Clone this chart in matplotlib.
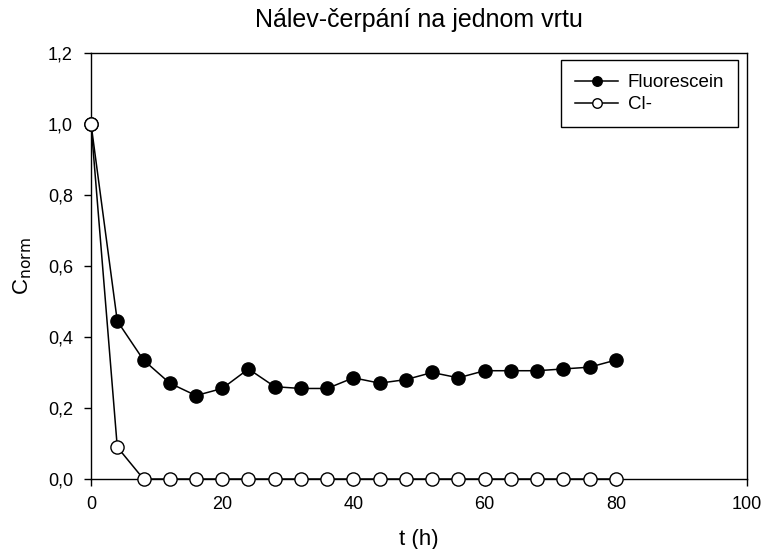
import numpy as np
import matplotlib.pyplot as plt

plt.rcParams['font.family'] = ['Liberation Sans', 'DejaVu Sans']

# time (h)
t = [0, 4, 8, 12, 16, 20, 24, 28, 32, 36, 40, 44, 48, 52, 56, 60, 64, 68, 72, 76, 80]
fluorescein = [1.0, 0.445, 0.335, 0.27, 0.235, 0.255, 0.31, 0.26, 0.255, 0.255, 0.285,
               0.27, 0.28, 0.30, 0.285, 0.305, 0.305, 0.305, 0.31, 0.315, 0.335]
chlorid = [1.0, 0.09, 0, 0, 0, 0, 0, 0, 0, 0, 0,
           0, 0, 0, 0, 0, 0, 0, 0, 0, 0]

xticks = [0, 20, 40, 60, 80, 100]
yticks = [0.0, 0.2, 0.4, 0.6, 0.8, 1.0, 1.2]

fig = plt.figure(figsize=(7.65, 5.49), dpi=100)
ax = fig.add_axes([0.119, 0.1275, 0.8575, 0.776])

ax.plot(t, fluorescein, '-o', color='black', mfc='black', mec='black',
        lw=1.1, ms=9.5, label='Fluorescein', zorder=3)
ax.plot(t, chlorid, '-o', color='black', mfc='white', mec='black',
        lw=1.1, ms=9.5, mew=1.0, label='Cl-', zorder=4)

ax.set_xlim(0, 100)
ax.set_ylim(0, 1.2)
ax.set_xticks(xticks)
ax.set_yticks(yticks)
ax.set_yticklabels([("%.1f" % v).replace('.', ',') for v in yticks])
ax.tick_params(direction='out', length=5, width=1, labelsize=13)
ax.tick_params(axis='x', pad=7)
ax.tick_params(axis='y', pad=8)
for s in ax.spines.values():
    s.set_linewidth(1.0)
for line in ax.lines:
    line.set_clip_on(False)

ax.set_xlabel('t (h)', fontsize=16, labelpad=12)
ax.set_ylabel(r'C$_{\mathrm{norm}}$', fontsize=16, labelpad=10)
ax.set_title('Nálev-čerpání na jednom vrtu', fontsize=18, pad=19)

leg = ax.legend(loc='upper right', bbox_to_anchor=(0.9865, 0.983), fontsize=13.5,
                frameon=True, fancybox=False, edgecolor='black', framealpha=1,
                handlelength=2.3, markerscale=0.72, borderpad=0.75,
                labelspacing=0.25, handletextpad=0.5, borderaxespad=0)
leg.get_frame().set_linewidth(1.0)

plt.savefig("out.png", dpi=100)
